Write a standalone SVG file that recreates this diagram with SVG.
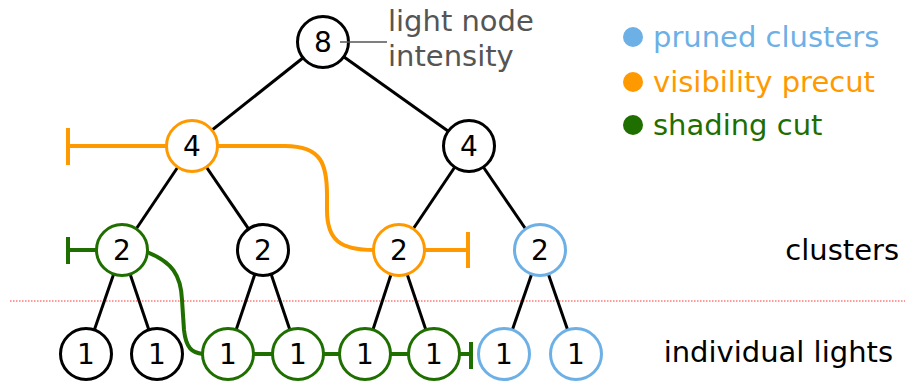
<svg xmlns="http://www.w3.org/2000/svg" width="905" height="384" viewBox="0 0 905 384">
<style>
text{font-family:"DejaVu Sans","Verdana",sans-serif;font-size:29px}
.n circle{fill:#fff;stroke-width:3}
.n text{text-anchor:middle;fill:#000;font-size:28px}
.k circle{stroke:#000}
.o circle{stroke:#FF9900}
.g circle{stroke:#1F6E00}
.b circle{stroke:#6DB0E6}
.edge{stroke:#000;stroke-width:3;fill:none}
.oc{stroke:#FF9900;stroke-width:4;fill:none}
.gc{stroke:#1F6E00;stroke-width:4;fill:none}
</style>
<line x1="10" y1="301" x2="905" y2="301" stroke="#FF3333" stroke-width="1.2" stroke-dasharray="1.5,1.5"/>
<g id="connectors">
<line class="edge" x1="323" y1="42" x2="192" y2="146"/>
<line class="edge" x1="323" y1="42" x2="469" y2="146"/>
<line class="edge" x1="192" y1="146" x2="122" y2="250"/>
<line class="edge" x1="192" y1="146" x2="263" y2="250"/>
<line class="edge" x1="469" y1="146" x2="399" y2="250"/>
<line class="edge" x1="469" y1="146" x2="540" y2="250"/>
<line class="edge" x1="122" y1="250" x2="86" y2="354"/>
<line class="edge" x1="122" y1="250" x2="157" y2="354"/>
<line class="edge" x1="263" y1="250" x2="228" y2="354"/>
<line class="edge" x1="263" y1="250" x2="298" y2="354"/>
<line class="edge" x1="399" y1="250" x2="365" y2="354"/>
<line class="edge" x1="399" y1="250" x2="434" y2="354"/>
<line class="edge" x1="540" y1="250" x2="504" y2="354"/>
<line class="edge" x1="540" y1="250" x2="576" y2="354"/>
<path class="oc" d="M68,146 H167 M68,128 V165"/>
<path class="oc" d="M218,146 H285 C322,146 327,165 327,195 V210 C327,240 340,250 374,250"/>
<path class="oc" d="M425,250 H468 M468,232 V268"/>
<path class="gc" d="M68,250 H97 M68,237 V264"/>
<path class="gc" d="M147,252 C172,262 181,275 182,300 L184,330 C186,348 192,353 203,354"/>
<path class="gc" d="M252,354 H273 M322,354 H340 M389,354 H409 M458,354 H471 M471,342 V369"/>
</g>
<g id="n8" class="n k"><circle cx="323" cy="42" r="25.5"/><text x="323" y="52">8</text></g>
<g id="n4a" class="n o"><circle cx="192" cy="146" r="25.5"/><text x="192" y="156">4</text></g>
<g id="n4b" class="n k"><circle cx="469" cy="146" r="25.5"/><text x="469" y="156">4</text></g>
<g id="n2a" class="n g"><circle cx="122" cy="250" r="25.5"/><text x="122" y="260">2</text></g>
<g id="n2b" class="n k"><circle cx="263" cy="250" r="25.5"/><text x="263" y="260">2</text></g>
<g id="n2c" class="n o"><circle cx="399" cy="250" r="25.5"/><text x="399" y="260">2</text></g>
<g id="n2d" class="n b"><circle cx="540" cy="250" r="25.5"/><text x="540" y="260">2</text></g>
<g id="n1a" class="n k"><circle cx="86" cy="354" r="25.5"/><text x="86" y="364">1</text></g>
<g id="n1b" class="n k"><circle cx="157" cy="354" r="25.5"/><text x="157" y="364">1</text></g>
<g id="n1c" class="n g"><circle cx="228" cy="354" r="25.5"/><text x="228" y="364">1</text></g>
<g id="n1d" class="n g"><circle cx="298" cy="354" r="25.5"/><text x="298" y="364">1</text></g>
<g id="n1e" class="n g"><circle cx="365" cy="354" r="25.5"/><text x="365" y="364">1</text></g>
<g id="n1f" class="n g"><circle cx="434" cy="354" r="25.5"/><text x="434" y="364">1</text></g>
<g id="n1g" class="n b"><circle cx="504" cy="354" r="25.5"/><text x="504" y="364">1</text></g>
<g id="n1h" class="n b"><circle cx="576" cy="354" r="25.5"/><text x="576" y="364">1</text></g>
<g id="annotation">
<line x1="340" y1="42" x2="387" y2="42" stroke="#555" stroke-width="1.5"/>
<text x="388" y="31" fill="#555">light node</text>
<text x="388" y="66" fill="#555">intensity</text>
</g>
<g id="legend">
<circle cx="633" cy="37" r="10" fill="#6DB0E6"/><text x="653" y="47" fill="#6DB0E6">pruned clusters</text>
<circle cx="633" cy="82" r="10" fill="#FF9900"/><text x="653" y="92" fill="#FF9900">visibility precut</text>
<circle cx="633" cy="125" r="10" fill="#1F6E00"/><text x="653" y="135" fill="#1F6E00">shading cut</text>
</g>
<g id="labels">
<text x="899" y="260" text-anchor="end">clusters</text>
<text x="893" y="362" text-anchor="end">individual lights</text>
</g>
</svg>
